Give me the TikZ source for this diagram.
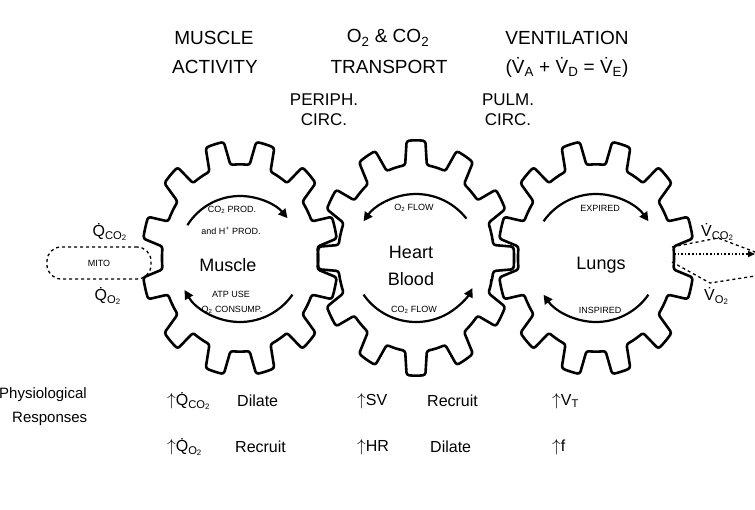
\documentclass[tikz,border=0pt]{standalone}
\usepackage{fontspec}
\setmainfont{Liberation Sans}
\usetikzlibrary{arrows.meta}
\newcommand{\dV}{V\char"0307\relax}
\newcommand{\dQ}{Q\char"0307\relax}
\newcommand{\sbs}[1]{\textsubscript{#1}}
\newcommand{\upar}{\ensuremath{\uparrow}}
\tikzset{
  gearline/.style={line width=2.6pt, rounded corners=2.5pt, line join=round},
  arcline/.style={line width=2.2pt, -{Triangle[length=9pt,width=9pt]}},
  hdr/.style={font=\fontsize{19}{21}\selectfont, inner sep=0pt},
  circlab/.style={font=\fontsize{17}{19}\selectfont, inner sep=0pt},
  gtext/.style={font=\fontsize{18}{20}\selectfont, inner sep=0pt},
  tiny/.style={font=\fontsize{9}{10}\selectfont, inner sep=0pt},
  flux/.style={font=\fontsize{16}{18}\selectfont, inner sep=0pt},
  resp/.style={font=\fontsize{16}{18}\selectfont, inner sep=0pt, anchor=west},
}
\newcommand{\mygear}[4]{%
  \coordinate (#1) at (#2,#3);
  \begin{scope}[shift={(#2,#3)}, yscale=1.2]
  \draw[gearline] ({#4-15}:78pt)
    \foreach \k in {0,...,11}{
      arc[start angle={#4+30*\k-15}, end angle={#4+30*\k-8}, radius=78pt]
      -- ({#4+30*\k-5.5}:98pt)
      arc[start angle={#4+30*\k-5.5}, end angle={#4+30*\k+5.5}, radius=98pt]
      -- ({#4+30*\k+8}:78pt)
      arc[start angle={#4+30*\k+8}, end angle={#4+30*\k+15}, radius=78pt]
    } -- cycle;
  \end{scope}}
\newcommand{\flowarc}[4]{%
  \draw[arcline] ([shift={(#1)}]#2:#4pt) arc[start angle=#2, end angle=#3, radius=#4pt];}
\begin{document}
\begin{tikzpicture}[x=1pt,y=-1pt]
\useasboundingbox (0,0) rectangle (755,510);
% headers
\node[hdr] (ma1) at (214,38) {MUSCLE};
\node[hdr] (ma2) at (215,67) {ACTIVITY};
\node[hdr] (tr1) at (388,38) {O\sbs{2} \& CO\sbs{2}};
\node[hdr] (tr2) at (389,67) {TRANSPORT};
\node[hdr] (ve1) at (567,38) {VENTILATION};
\node[hdr] (ve2) at (567,67) {(\dV\sbs{A} + \dV\sbs{D} = \dV\sbs{E})};
\node[circlab] (pc1) at (324,100) {PERIPH.};
\node[circlab] (pc2) at (324,120) {CIRC.};
\node[circlab] (pu1) at (508,100) {PULM.};
\node[circlab] (pu2) at (508,120) {CIRC.};
% gears
\mygear{gm}{240}{258}{15}
\mygear{gh}{416}{258}{0}
\mygear{gl}{596}{258}{15}
% muscle
\flowarc{gm}{148}{40}{62}
\flowarc{gm}{325}{210}{64}
\node[tiny] (mt1) at (232,210) {CO\sbs{2} PROD.};
\node[tiny] (mt2) at (231,231) {and H\textsuperscript{+} PROD.};
\node[gtext] (mus) at (228,265) {Muscle};
\node[tiny] (mb1) at (231,294) {ATP USE};
\node[tiny] (mb2) at (232,310) {O\sbs{2} CONSUMP.};
% heart
\flowarc{gh}{38}{145}{64}
\flowarc{gh}{215}{332}{64}
\node[tiny] (ht1) at (414,208) {O\sbs{2} FLOW};
\node[gtext] (hea) at (411,252) {Heart};
\node[gtext] (blo) at (411,279) {Blood};
\node[tiny] (hb1) at (414,310) {CO\sbs{2} FLOW};
% lungs
\flowarc{gl}{145}{35}{64}
\flowarc{gl}{325}{215}{64}
\node[tiny] (lt1) at (600,208) {EXPIRED};
\node[gtext] (lun) at (601,265) {Lungs};
\node[tiny] (lb1) at (600,310) {INSPIRED};
% left side
\node[draw, dashed, line width=1.3pt, rounded corners=14pt, minimum width=104pt, minimum height=32pt, inner sep=0pt] (mito) at (99,263) {\fontsize{9}{10}\selectfont MITO};
\node[flux] (qco) at (110,232) {\dQ\sbs{CO\sbs{2}}};
\node[flux] (qo) at (108,296) {\dQ\sbs{O\sbs{2}}};
% right side
\node[flux, anchor=west] (vco) at (701,232) {\dV\sbs{CO\sbs{2}}};
\node[flux, anchor=west] (vo) at (704,296) {\dV\sbs{O\sbs{2}}};
\coordinate (ra1) at (672,247);
\coordinate (ra2) at (718,238);
\coordinate (ra3) at (755,252);
\coordinate (rb1) at (674,254);
\coordinate (rb2) at (755,254);
\coordinate (rc1) at (672,262);
\coordinate (rc2) at (710,283);
\coordinate (rc3) at (755,276);
\draw[dashed, line width=1.3pt] (ra1) -- (ra2) -- (ra3);
\draw[dotted, line width=1.6pt, -{Triangle[length=7pt,width=6pt]}] (rb1) -- (rb2);
\draw[dashed, line width=1.3pt] (rc1) -- (rc2) -- (rc3);
% responses
\node[font=\fontsize{15}{17}\selectfont, inner sep=0pt, anchor=west] (ph) at (-1,395) {Physiological};
\node[font=\fontsize{15}{17}\selectfont, inner sep=0pt, anchor=west] (re) at (12,419) {Responses};
\node[resp] (r11) at (167,401) {\upar\dQ\sbs{CO\sbs{2}}};
\node[resp] (r12) at (237,401) {Dilate};
\node[resp] (r13) at (357,401) {\upar SV};
\node[resp] (r14) at (427,401) {Recruit};
\node[resp] (r15) at (552,401) {\upar V\sbs{T}};
\node[resp] (r21) at (167,447) {\upar\dQ\sbs{O\sbs{2}}};
\node[resp] (r22) at (235,447) {Recruit};
\node[resp] (r23) at (357,447) {\upar HR};
\node[resp] (r24) at (430,447) {Dilate};
\node[resp] (r25) at (552,447) {\upar f};
\end{tikzpicture}
\end{document}
